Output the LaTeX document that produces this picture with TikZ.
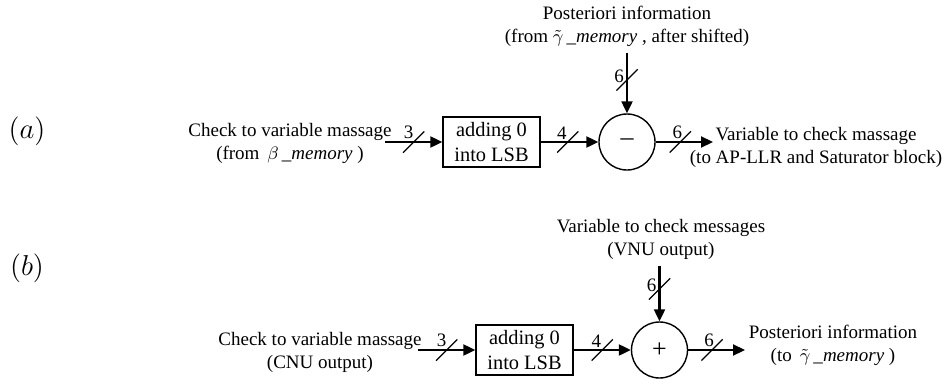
\documentclass[tikz,border=0pt]{standalone}
\usepackage{fontspec}
\setmainfont{Liberation Serif}
\usetikzlibrary{arrows.meta,shapes.misc}

\begin{document}
\begin{tikzpicture}[x=0.5pt,y=-0.5pt,
	txt/.style={align=center,inner sep=0pt,font=\fontsize{9.5}{11.5}\selectfont},
	blk/.style={draw,line width=0.7pt,minimum width=48.5pt,minimum height=25pt,inner sep=0pt,align=center,font=\fontsize{10.2}{12.5}\selectfont},
	sum/.style={draw,circle,line width=0.7pt,minimum size=28pt,inner sep=0pt,font=\fontsize{13}{14}\selectfont},
	bus/.style={line width=1.1pt,-{Triangle[length=6pt,width=5.5pt]}},
	slash/.style={draw,strike out,-,line width=0.6pt,minimum size=10pt,inner sep=0pt},
	num/.style={inner sep=0pt,font=\fontsize{9.5}{11.5}\selectfont},
	tag/.style={inner sep=0pt,font=\fontsize{14}{16}\selectfont}]
	\useasboundingbox (0,0) rectangle (948,380);
	% (a) subtractor
	\node[tag] (taga) at (27,131) {$(a)$};
	\node[txt] (ina) at (290,143) {Check to variable massage\\(from \,$\beta$\,\_\textit{memory} )};
	\coordinate (ina-out) at (385,142);
	\node[blk] (boxa) at (491.5,142) {adding 0\\into LSB};
	\node[sum] (suma) at (627,142) {--};
	\node[txt] (topa) at (627,26) {Posteriori information\\(from $\tilde{\gamma}$\,\_\textit{memory} , after shifted)};
	\coordinate (outa-in) at (713,142);
	\node[txt] (outa) at (816,147) {Variable to check massage\\(to AP-LLR and Saturator block)};
	\draw[bus] (ina-out) -- node[slash] (sa1) {} (boxa);
	\draw[bus] (boxa) -- node[slash,pos=.47] (sa2) {} (suma);
	\draw[bus] (suma) -- node[slash,pos=.43] (sa3) {} (outa-in);
	\draw[bus] ([yshift=-3pt]topa.south) -- node[slash,pos=.45] (sa4) {} (suma.north);
	\node[num] (la1) at ([shift={(-5,-10)}]sa1) {3};
	\node[num] (la2) at ([shift={(-6,-9)}]sa2) {4};
	\node[num] (la3) at ([shift={(-3,-10)}]sa3) {6};
	\node[num] (la4) at ([shift={(-8,-4)}]sa4) {6};
	% (b) adder
	\node[tag] (tagb) at (27,268) {$(b)$};
	\node[txt] (inb) at (320,352) {Check to variable massage\\(CNU output)};
	\coordinate (inb-out) at (418,350);
	\node[blk] (boxb) at (524.5,350) {adding 0\\into LSB};
	\node[sum] (sumb) at (659.5,350) {+};
	\node[txt] (topb) at (661,239) {Variable to check messages\\(VNU output)};
	\coordinate (outb-in) at (745,350);
	\node[txt] (outb) at (833,345) {Posteriori information\\(to \,$\tilde{\gamma}$\,\_\textit{memory} )};
	\draw[bus] (inb-out) -- node[slash] (sb1) {} (boxb);
	\draw[bus] (boxb) -- node[slash] (sb2) {} (sumb);
	\draw[bus] (sumb) -- node[slash,pos=.42] (sb3) {} (outb-in);
	\draw[bus] ([yshift=-3pt]topb.south -| sumb) -- node[slash,pos=.42] (sb4) {} (sumb.north);
	\node[num] (lb1) at ([shift={(-5,-10)}]sb1) {3};
	\node[num] (lb2) at ([shift={(-6,-9)}]sb2) {4};
	\node[num] (lb3) at ([shift={(-3,-10)}]sb3) {6};
	\node[num] (lb4) at ([shift={(-8,-4)}]sb4) {6};
\end{tikzpicture}
\end{document}
